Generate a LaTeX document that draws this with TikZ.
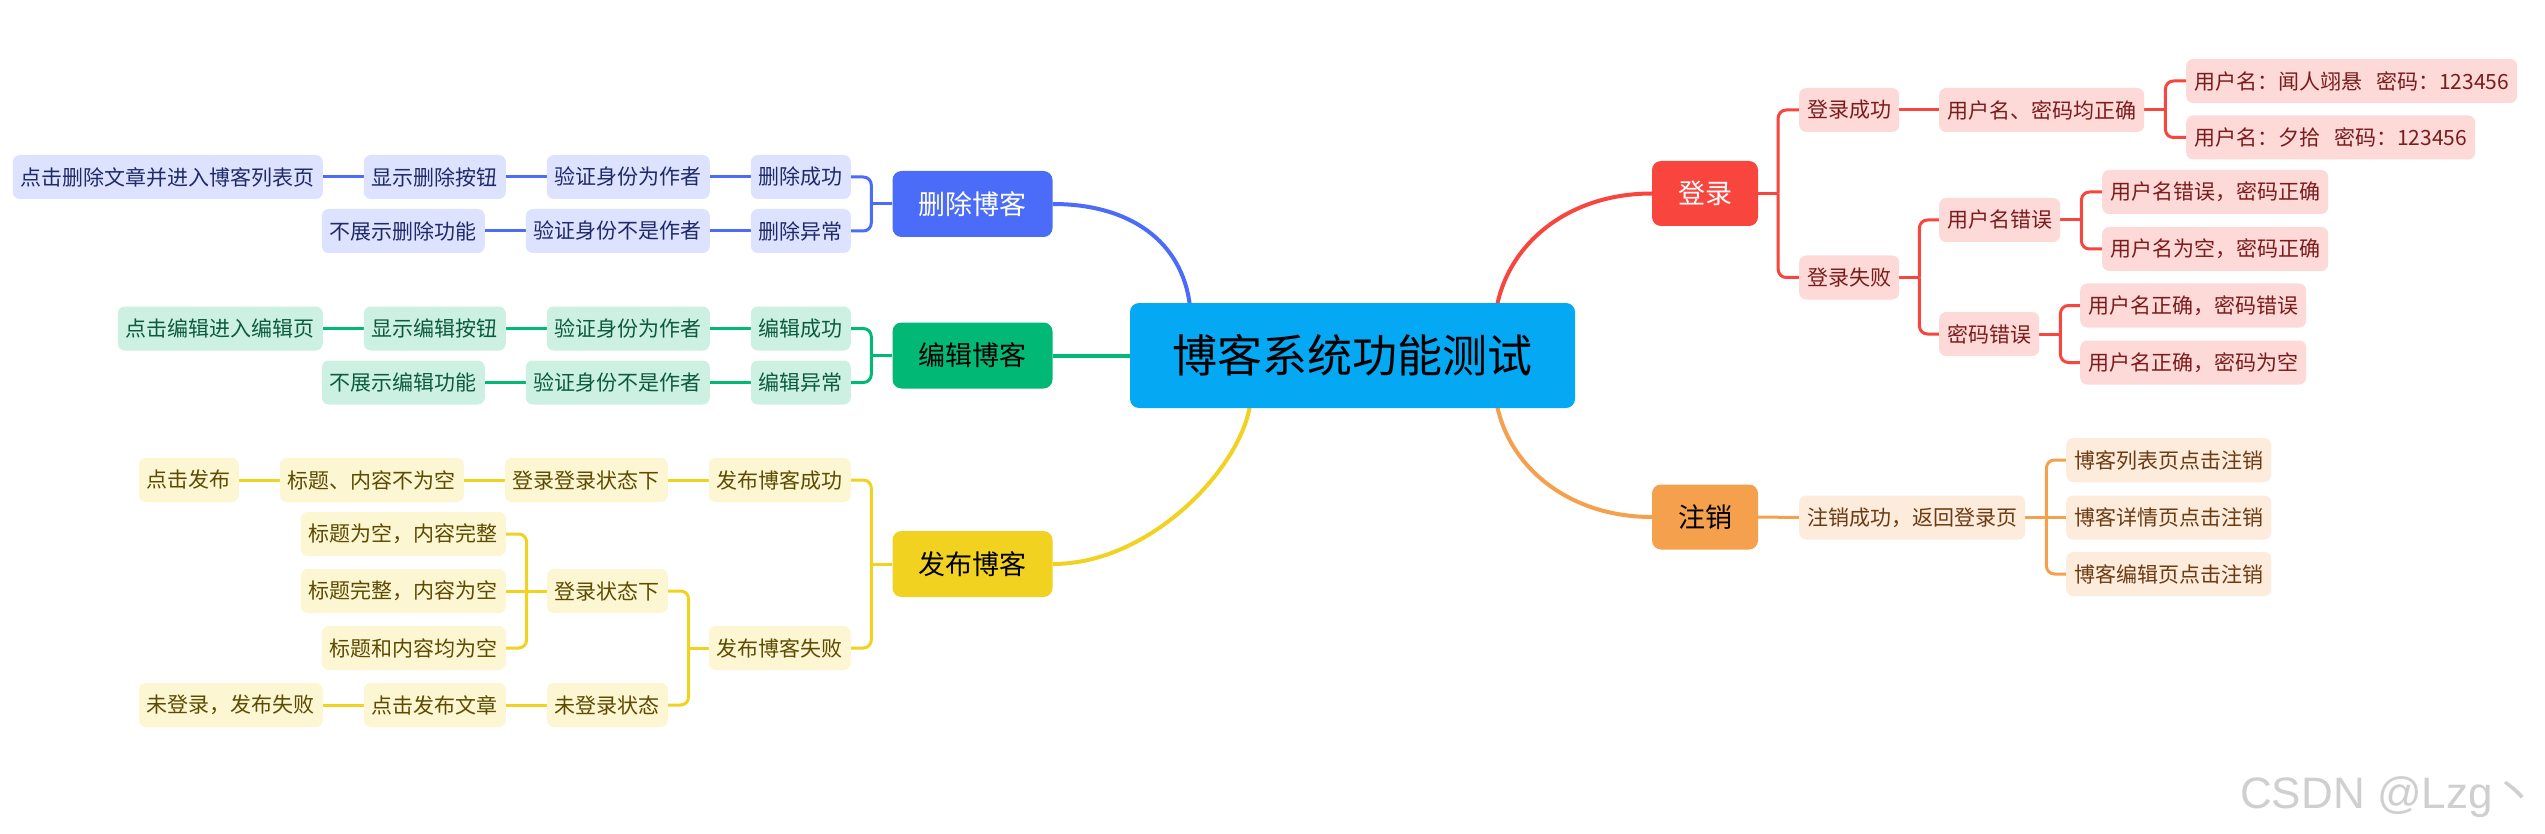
\documentclass[tikz,border=0pt]{standalone}
\usepackage{fontspec}
\setmainfont{Noto Sans CJK SC}
\newfontfamily\wmfont{Liberation Sans}
\usetikzlibrary{calc,backgrounds}
\definecolor{cctr}{HTML}{05A8F2}
\definecolor{cdel}{HTML}{4A6CF8}
\definecolor{cedit}{HTML}{02B875}
\definecolor{cpub}{HTML}{F2D220}
\definecolor{clog}{HTML}{F8453D}
\definecolor{cout}{HTML}{F5A04C}
\definecolor{fdel}{HTML}{DDE3FE}
\definecolor{fedit}{HTML}{CCF1E3}
\definecolor{fpub}{HTML}{FDF6D2}
\definecolor{flog}{HTML}{FDD9D8}
\definecolor{fout}{HTML}{FDEBDC}
\definecolor{tdel}{HTML}{1F2A6B}
\definecolor{tedit}{HTML}{0D5B3C}
\definecolor{tpub}{HTML}{5C4B00}
\definecolor{tlog}{HTML}{7B1C1C}
\definecolor{tout}{HTML}{6B3B12}
\definecolor{wmgray}{HTML}{CFCFCF}
\tikzset{
  leaf/.style={rounded corners=7pt, minimum height=44pt, inner xsep=8pt, inner ysep=0pt,
    font=\fontsize{21pt}{21pt}\selectfont},
  dleaf/.style={leaf, fill=fdel, text=tdel},
  eleaf/.style={leaf, fill=fedit, text=tedit},
  pleaf/.style={leaf, fill=fpub, text=tpub},
  lleaf/.style={leaf, fill=flog, text=tlog},
  oleaf/.style={leaf, fill=fout, text=tout},
  mainbox/.style={rounded corners=9pt, minimum width=160pt, minimum height=66pt, inner sep=0pt,
    font=\fontsize{27pt}{27pt}\selectfont},
  smallmain/.style={mainbox, minimum width=106pt, minimum height=65pt},
  ctrbox/.style={rounded corners=9pt, minimum width=445pt, minimum height=105pt, inner sep=0pt,
    fill=cctr, text=black, font=\fontsize{45pt}{45pt}\selectfont},
  dline/.style={draw=cdel, line width=3pt},
  eline/.style={draw=cedit, line width=3pt},
  pline/.style={draw=cpub, line width=3pt},
  lline/.style={draw=clog, line width=3pt},
  oline/.style={draw=cout, line width=3pt},
  elbow/.style={rounded corners=8pt},
  trunk/.style={line width=4pt}
}
\begin{document}
\begin{tikzpicture}[x=1pt,y=-1pt]
\useasboundingbox (0,0) rectangle (2545,834);
% center and main topics
\node[ctrbox] (ctr) at (1352.5,355.5) {博客系统功能测试};
\node[mainbox, fill=cdel, text=white] (del) at (972.5,204) {删除博客};
\node[mainbox, fill=cedit, text=black] (edit) at (972.5,355.5) {编辑博客};
\node[mainbox, fill=cpub, text=black] (pub) at (972.5,564) {发布博客};
\node[smallmain, fill=clog, text=white] (login) at (1705,193.5) {登录};
\node[smallmain, fill=cout, text=black] (logout) at (1705,517) {注销};
% login branch
\node[lleaf, anchor=west] (ls) at (1799,110) {登录成功};
\node[lleaf, anchor=west] (lsa) at (1939,110) {用户名、密码均正确};
\node[lleaf, anchor=west] (lsa1) at (2186,81) {用户名：闻人翊悬\hspace{14pt}密码：123456};
\node[lleaf, anchor=west] (lsa2) at (2186,137.5) {用户名：夕拾\hspace{14pt}密码：123456};
\node[lleaf, anchor=west] (lf) at (1799,277.5) {登录失败};
\node[lleaf, anchor=west] (lf1) at (1939,220) {用户名错误};
\node[lleaf, anchor=west] (lf11) at (2102,192) {用户名错误，密码正确};
\node[lleaf, anchor=west] (lf12) at (2102,249) {用户名为空，密码正确};
\node[lleaf, anchor=west] (lf2) at (1939,334) {密码错误};
\node[lleaf, anchor=west] (lf21) at (2080,305.5) {用户名正确，密码错误};
\node[lleaf, anchor=west] (lf22) at (2080,362.5) {用户名正确，密码为空};
% logout branch
\node[oleaf, anchor=west] (lo1) at (1799,517.5) {注销成功，返回登录页};
\node[oleaf, anchor=west] (lo11) at (2066,460) {博客列表页点击注销};
\node[oleaf, anchor=west] (lo12) at (2066,517.5) {博客详情页点击注销};
\node[oleaf, anchor=west] (lo13) at (2066,574) {博客编辑页点击注销};
% delete branch
\node[dleaf, anchor=east] (d1) at (851,177) {删除成功};
\node[dleaf, anchor=east] (d11) at (710,177) {验证身份为作者};
\node[dleaf, anchor=east] (d111) at (506,177) {显示删除按钮};
\node[dleaf, anchor=east] (d1111) at (323,177) {点击删除文章并进入博客列表页};
\node[dleaf, anchor=east] (d2) at (851,231) {删除异常};
\node[dleaf, anchor=east] (d21) at (710,231) {验证身份不是作者};
\node[dleaf, anchor=east] (d211) at (485,231) {不展示删除功能};
% edit branch
\node[eleaf, anchor=east] (e1) at (851,328.5) {编辑成功};
\node[eleaf, anchor=east] (e11) at (710,328.5) {验证身份为作者};
\node[eleaf, anchor=east] (e111) at (506,328.5) {显示编辑按钮};
\node[eleaf, anchor=east] (e1111) at (323,328.5) {点击编辑进入编辑页};
\node[eleaf, anchor=east] (e2) at (851,382.5) {编辑异常};
\node[eleaf, anchor=east] (e21) at (710,382.5) {验证身份不是作者};
\node[eleaf, anchor=east] (e211) at (485,382.5) {不展示编辑功能};
% publish branch
\node[pleaf, anchor=east] (p1) at (851,480) {发布博客成功};
\node[pleaf, anchor=east] (p11) at (668,480) {登录登录状态下};
\node[pleaf, anchor=east] (p111) at (464,480) {标题、内容不为空};
\node[pleaf, anchor=east] (p1111) at (239,480) {点击发布};
\node[pleaf, anchor=east] (p2) at (851,648) {发布博客失败};
\node[pleaf, anchor=east] (p21) at (668,591) {登录状态下};
\node[pleaf, anchor=east] (p211) at (506,534) {标题为空，内容完整};
\node[pleaf, anchor=east] (p212) at (506,591) {标题完整，内容为空};
\node[pleaf, anchor=east] (p213) at (506,648) {标题和内容均为空};
\node[pleaf, anchor=east] (p22) at (668,705) {未登录状态};
\node[pleaf, anchor=east] (p221) at (506,705) {点击发布文章};
\node[pleaf, anchor=east] (p2211) at (323,705) {未登录，发布失败};
% watermark
\node[anchor=base west, inner sep=0pt, text=wmgray, font=\wmfont\fontsize{44pt}{44pt}\selectfont] (wm) at (2240,808) {CSDN @Lzg{\normalfont 丶}};
% anchor points on the central topic
\coordinate (cDel) at ($(ctr.north west)+(60,2)$);
\coordinate (cPub) at ($(ctr.south west)+(120,-2)$);
\coordinate (cLog) at ($(ctr.north east)+(-78,2)$);
\coordinate (cOut) at ($(ctr.south east)+(-78,-2)$);
\begin{scope}[on background layer]
\fill[white] (0,0) rectangle (2545,834);
% trunks
\draw[dline, trunk] (del.east) .. controls +(78,0) and +(-8,-63) .. (cDel);
\draw[eline, trunk] (edit.east) -- (ctr.west);
\draw[pline, trunk] (pub.east) .. controls +(98,0) and +(-10,62) .. (cPub);
\draw[lline, trunk] (cLog) .. controls +(13,-63) and +(-82,0) .. (login.west);
\draw[oline, trunk] (cOut) .. controls +(13,62) and +(-82,0) .. (logout.west);
% login
\draw[lline] (login.east) -- ++(20,0) coordinate (bLogin);
\draw[lline, elbow] (bLogin) |- (ls.west);
\draw[lline, elbow] (bLogin) |- (lf.west);
\draw[lline] (ls.east) -- (lsa.west);
\draw[lline] (lsa.east) -- ++(21,0) coordinate (bLsa);
\draw[lline, elbow] (bLsa) |- (lsa1.west);
\draw[lline, elbow] (bLsa) |- (lsa2.west);
\draw[lline] (lf.east) -- ++(20,0) coordinate (bLf);
\draw[lline, elbow] (bLf) |- (lf1.west);
\draw[lline, elbow] (bLf) |- (lf2.west);
\draw[lline] (lf1.east) -- ++(21,0) coordinate (bLf1);
\draw[lline, elbow] (bLf1) |- (lf11.west);
\draw[lline, elbow] (bLf1) |- (lf12.west);
\draw[lline] (lf2.east) -- ++(21,0) coordinate (bLf2);
\draw[lline, elbow] (bLf2) |- (lf21.west);
\draw[lline, elbow] (bLf2) |- (lf22.west);
% logout
\draw[oline] (logout.east) -- (lo1.west);
\draw[oline] (lo1.east) -- ++(21,0) coordinate (bLo1);
\draw[oline, elbow] (bLo1) |- (lo11.west);
\draw[oline] (bLo1) -- (lo12.west);
\draw[oline, elbow] (bLo1) |- (lo13.west);
% delete
\draw[dline] (del.west) -- ++(-21,0) coordinate (bDel);
\draw[dline, elbow] (bDel) |- (d1.east);
\draw[dline, elbow] (bDel) |- (d2.east);
\draw[dline] (d1.west) -- (d11.east);
\draw[dline] (d11.west) -- (d111.east);
\draw[dline] (d111.west) -- (d1111.east);
\draw[dline] (d2.west) -- (d21.east);
\draw[dline] (d21.west) -- (d211.east);
% edit
\draw[eline] (edit.west) -- ++(-21,0) coordinate (bEdit);
\draw[eline, elbow] (bEdit) |- (e1.east);
\draw[eline, elbow] (bEdit) |- (e2.east);
\draw[eline] (e1.west) -- (e11.east);
\draw[eline] (e11.west) -- (e111.east);
\draw[eline] (e111.west) -- (e1111.east);
\draw[eline] (e2.west) -- (e21.east);
\draw[eline] (e21.west) -- (e211.east);
% publish
\draw[pline] (pub.west) -- ++(-21,0) coordinate (bPub);
\draw[pline, elbow] (bPub) |- (p1.east);
\draw[pline, elbow] (bPub) |- (p2.east);
\draw[pline] (p1.west) -- (p11.east);
\draw[pline] (p11.west) -- (p111.east);
\draw[pline] (p111.west) -- (p1111.east);
\draw[pline] (p2.west) -- ++(-20,0) coordinate (bP2);
\draw[pline, elbow] (bP2) |- (p21.east);
\draw[pline, elbow] (bP2) |- (p22.east);
\draw[pline] (p21.west) -- ++(-20,0) coordinate (bP21);
\draw[pline, elbow] (bP21) |- (p211.east);
\draw[pline] (bP21) -- (p212.east);
\draw[pline, elbow] (bP21) |- (p213.east);
\draw[pline] (p22.west) -- (p221.east);
\draw[pline] (p221.west) -- (p2211.east);
\end{scope}
\end{tikzpicture}
\end{document}
